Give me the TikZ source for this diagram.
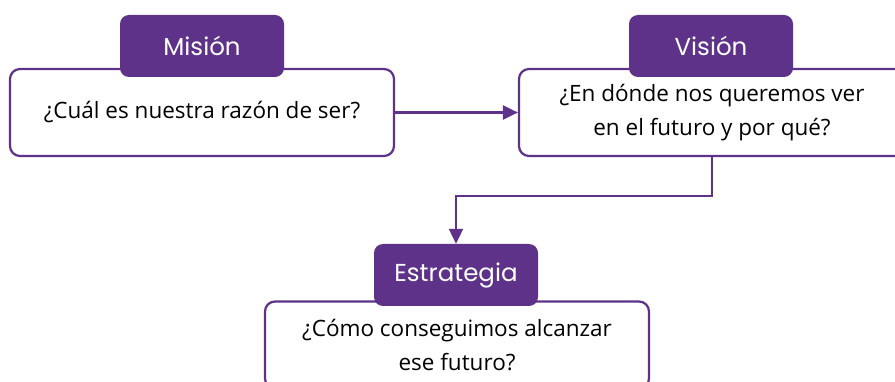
\documentclass[tikz,border=0pt]{standalone}
\usepackage{fontspec}
\setmainfont{Open Sans}
\newfontfamily\tabfont{Poppins}
\usetikzlibrary{arrows.meta}
\definecolor{moradoback}{RGB}{93,50,136}

\tikzset{
  caja/.style={draw=moradoback,line width=2.2pt,fill=white,rounded corners=10pt,
    minimum width=384pt,minimum height=87pt,align=center,font=\fontsize{22.5}{33.5}\selectfont},
  pestana/.style={fill=moradoback,rounded corners=9pt,minimum width=164pt,
    minimum height=62pt,text=white,font=\tabfont\fontsize{24.5}{28}\selectfont},
  flecha/.style={draw=moradoback,line width=2.2pt,-{Triangle[length=15pt,width=14pt]}}
}

\begin{document}
\begin{tikzpicture}[x=1pt,y=-1pt]
\useasboundingbox (0,0) rectangle (895,382);
\clip (0,0) rectangle (895,382);

\node [caja] (mision) at (202,112.5) {¿Cuál es nuestra razón de ser?};
\node [pestana] (mision tab) at (202,46) {Misión};

\node [caja,minimum width=386pt] (vision) at (712,112.5) {¿En dónde nos queremos ver\\en el futuro y por qué?};
\node [pestana] (vision tab) at (711,46) {Visión};

\node [caja] (estrategia) at (457,345) {¿Cómo conseguimos alcanzar\\ese futuro?};
\node [pestana] (estrategia tab) at (456,275) {Estrategia};

\draw [flecha] (mision.east) -- (vision.west);
\draw [flecha] (vision.south) -- ++(0,39) -| (estrategia tab.north);
\end{tikzpicture}
\end{document}
